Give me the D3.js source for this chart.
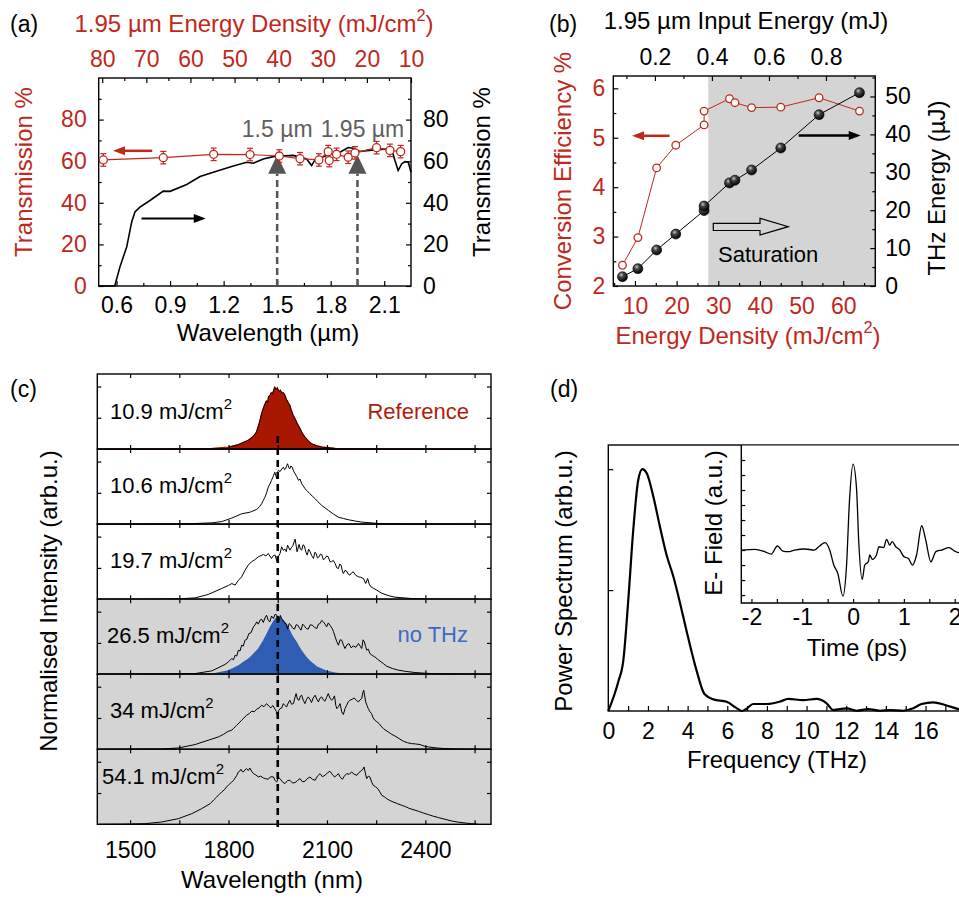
<!DOCTYPE html>
<html>
<head>
<meta charset="utf-8">
<script src="https://cdn.jsdelivr.net/npm/d3@7"></script>
<style>
  body { margin: 0; background: #fff; }
</style>
</head>
<body>
<svg id="fig" width="959" height="898"></svg>
<script>
// ---------- data ----------
// (a) measured transmission (red, left axis) and crystal transmission spectrum (black, right axis)
const transLambda = [0.526, 0.862, 1.144, 1.348, 1.512, 1.628, 1.734, 1.786, 1.792, 1.833, 1.898, 1.936, 2.057, 2.132, 2.192];
const transValue  = [60.6, 61.7, 63.3, 63.2, 62.5, 61.2, 60.6, 64.6, 60.3, 63.3, 61.9, 64.0, 66.5, 65.2, 64.6];
const transErr    = [3, 3, 3, 3, 3, 3, 3, 3, 3, 3, 3, 3, 3, 3, 3];
const specLambda = [0.5, 0.59, 0.619, 0.657, 0.685, 0.703, 0.731, 0.787, 0.862, 0.9, 0.993, 1.068, 1.142, 1.254, 1.329, 1.366, 1.422, 1.478, 1.59, 1.665,
                    1.693, 1.712, 1.777, 1.852, 1.898, 1.926, 1.964, 2.001, 2.076, 2.141, 2.16, 2.178, 2.198, 2.216, 2.235, 2.25];
const specTrans  = [0, 0, 9.2, 18.8, 30.8, 35.6, 37.9, 41.1, 45.6, 45.5, 48.8, 52.6, 54.7, 57.7, 59.5, 59, 61.1, 62.2, 62.8, 61.1,
                    57.9, 60.6, 62.7, 64.3, 66.6, 66.2, 64.7, 65.1, 65.7, 65.9, 60.3, 55.5, 58.7, 59.8, 59.5, 54.7];
const aTicksLeft = [0, 20, 40, 60, 80];
const aTicksBottom = [0.6, 0.9, 1.2, 1.5, 1.8, 2.1];
const aTicksTop = [80, 70, 60, 50, 40, 30, 20, 10];
const pumpLines = [1.5, 1.95];
const pumpLabels = ["1.5 µm", "1.95 µm"];

// (b) conversion efficiency (red) and THz energy (black) vs energy density
const fluence   = [7.0, 10.7, 15.2, 19.8, 26.6, 26.6, 32.7, 34.0, 38.0, 45.0, 54.2, 63.9];
const convEff   = [2.42, 2.98, 4.39, 4.85, 5.26, 5.54, 5.79, 5.71, 5.61, 5.62, 5.81, 5.54];
const thzEnergy = [2.46, 4.58, 9.5, 13.7, 19.9, 21.1, 27.2, 27.9, 30.6, 36.4, 45.2, 51.0];
const bTicksLeft = [2, 3, 4, 5, 6];
const bTicksRight = [0, 10, 20, 30, 40, 50];
const bTicksBottom = [10, 20, 30, 40, 50, 60];
const bTicksTop = [0.2, 0.4, 0.6, 0.8];
const saturationStart = 27.6;

// (c) spectra, [wavelength nm, normalised intensity]
const spec109 = [[1400,0],[1650,0.003],[1750,0.012],[1800,0.03],[1830,0.07],[1860,0.14],[1875,0.2],[1885,0.27],[1893,0.4],[1901,0.57],[1908,0.68],[1915,0.77],[1919,0.74],[1922,0.84],[1927,0.86],[1930,0.9],[1934,0.88],[1938,0.95],[1941,0.99],[1945,0.95],[1949,0.98],[1953,0.92],[1958,0.94],[1963,0.89],[1967,0.9],[1972,0.86],[1976,0.8],[1983,0.73],[1987,0.7],[1990,0.64],[1997,0.54],[2005,0.46],[2010,0.4],[2018,0.33],[2025,0.25],[2033,0.19],[2043,0.13],[2053,0.085],[2070,0.05],[2085,0.032],[2125,0.01],[2200,0.003],[2560,0]];
const spec106 = [[1400,0],[1650,0.003],[1700,0.01],[1749,0.02],[1779,0.04],[1810,0.096],[1840,0.165],[1865,0.19],[1870,0.2],[1886,0.235],[1895,0.28],[1901,0.325],[1906,0.38],[1911,0.43],[1916,0.5],[1921,0.59],[1926,0.64],[1931,0.7],[1936,0.76],[1941,0.83],[1944,0.78],[1947,0.725],[1950,0.84],[1952,0.86],[1957,0.84],[1962,0.88],[1967,0.91],[1971,0.87],[1974,0.885],[1977,0.93],[1980,0.965],[1984,0.9],[1987,0.885],[1990,0.93],[1994,0.91],[1998,0.85],[2003,0.805],[2008,0.76],[2013,0.7],[2018,0.72],[2023,0.645],[2028,0.61],[2033,0.565],[2040,0.53],[2048,0.485],[2055,0.45],[2064,0.405],[2072,0.36],[2084,0.3],[2094,0.26],[2104,0.22],[2120,0.16],[2135,0.11],[2150,0.09],[2165,0.07],[2185,0.05],[2206,0.032],[2257,0.01],[2358,0.002],[2560,0]];
const spec197 = [[1400,0],[1550,0.002],[1647,0.005],[1698,0.02],[1738,0.075],[1779,0.17],[1800,0.22],[1810,0.25],[1820,0.224],[1830,0.3],[1840,0.357],[1850,0.46],[1860,0.544],[1870,0.597],[1880,0.63],[1891,0.677],[1906,0.715],[1914,0.69],[1921,0.73],[1931,0.65],[1937,0.7],[1942,0.704],[1947,0.608],[1952,0.68],[1957,0.73],[1962,0.837],[1967,0.78],[1972,0.8],[1976,0.76],[1980,0.864],[1987,0.784],[1991,0.82],[1996,0.853],[2003,0.96],[2009,0.757],[2015,0.875],[2019,0.8],[2023,0.784],[2027,0.87],[2031,0.853],[2036,0.75],[2040,0.704],[2044,0.8],[2048,0.768],[2053,0.7],[2059,0.65],[2063,0.75],[2067,0.73],[2071,0.66],[2076,0.677],[2080,0.72],[2084,0.715],[2089,0.63],[2094,0.65],[2099,0.69],[2104,0.677],[2109,0.6],[2114,0.597],[2119,0.62],[2125,0.57],[2130,0.5],[2135,0.49],[2139,0.56],[2143,0.544],[2147,0.45],[2150,0.41],[2155,0.46],[2160,0.448],[2165,0.4],[2170,0.384],[2175,0.42],[2180,0.437],[2188,0.38],[2196,0.357],[2203,0.35],[2211,0.33],[2218,0.25],[2224,0.33],[2229,0.24],[2234,0.197],[2243,0.17],[2252,0.144],[2265,0.1],[2277,0.075],[2292,0.05],[2307,0.032],[2358,0.01],[2409,0.003],[2560,0]];
const spec265 = [[1400,0],[1600,0.004],[1698,0.01],[1749,0.053],[1789,0.155],[1800,0.2],[1810,0.25],[1815,0.23],[1820,0.304],[1825,0.29],[1830,0.384],[1835,0.37],[1840,0.464],[1845,0.45],[1850,0.544],[1856,0.56],[1862,0.65],[1868,0.66],[1876,0.757],[1881,0.79],[1886,0.837],[1891,0.8],[1896,0.864],[1901,0.88],[1906,0.827],[1911,0.9],[1916,0.944],[1921,0.86],[1926,0.837],[1931,0.93],[1937,0.89],[1942,0.96],[1947,0.944],[1950,0.85],[1954,0.837],[1958,0.94],[1962,0.89],[1967,0.85],[1972,0.81],[1976,0.8],[1980,0.72],[1985,0.81],[1990,0.784],[1995,0.74],[2001,0.72],[2006,0.79],[2011,0.784],[2016,0.74],[2021,0.704],[2026,0.8],[2031,0.773],[2037,0.73],[2043,0.72],[2049,0.79],[2055,0.784],[2062,0.75],[2069,0.73],[2074,0.8],[2079,0.81],[2084,0.86],[2089,0.837],[2094,0.8],[2099,0.757],[2104,0.82],[2109,0.784],[2116,0.73],[2120,0.68],[2125,0.597],[2130,0.52],[2135,0.464],[2140,0.55],[2145,0.544],[2150,0.47],[2155,0.41],[2161,0.47],[2167,0.49],[2174,0.42],[2180,0.453],[2188,0.43],[2196,0.49],[2201,0.45],[2206,0.41],[2210,0.55],[2214,0.517],[2218,0.44],[2221,0.384],[2226,0.4],[2231,0.33],[2238,0.3],[2246,0.277],[2254,0.24],[2262,0.208],[2272,0.17],[2282,0.128],[2300,0.09],[2318,0.064],[2340,0.045],[2368,0.027],[2400,0.015],[2440,0.005],[2560,0]];
const spec265noTHz = [[1400,0],[1650,0.002],[1700,0.005],[1749,0.01],[1799,0.064],[1830,0.144],[1845,0.2],[1860,0.25],[1870,0.3],[1881,0.357],[1890,0.41],[1896,0.464],[1904,0.53],[1911,0.597],[1916,0.65],[1921,0.704],[1926,0.76],[1932,0.81],[1937,0.86],[1942,0.89],[1947,0.91],[1952,0.933],[1957,0.92],[1962,0.89],[1970,0.85],[1977,0.81],[1985,0.73],[1992,0.65],[2000,0.58],[2008,0.517],[2015,0.45],[2023,0.384],[2030,0.33],[2038,0.277],[2048,0.22],[2059,0.17],[2070,0.125],[2084,0.09],[2100,0.055],[2125,0.027],[2165,0.005],[2250,0],[2560,0]];
const spec34 = [[1400,0],[1500,0.002],[1596,0.005],[1647,0.02],[1698,0.075],[1738,0.144],[1769,0.197],[1785,0.24],[1799,0.288],[1808,0.3],[1815,0.33],[1820,0.36],[1825,0.384],[1832,0.42],[1840,0.464],[1847,0.5],[1855,0.544],[1863,0.57],[1871,0.608],[1878,0.6],[1886,0.64],[1893,0.66],[1901,0.704],[1908,0.68],[1916,0.73],[1923,0.69],[1929,0.661],[1935,0.7],[1942,0.64],[1946,0.6],[1949,0.544],[1953,0.62],[1957,0.65],[1962,0.66],[1967,0.73],[1972,0.7],[1977,0.677],[1982,0.74],[1987,0.784],[1992,0.72],[1998,0.73],[2002,0.82],[2006,0.89],[2010,0.8],[2015,0.784],[2019,0.85],[2023,0.864],[2028,0.78],[2033,0.73],[2038,0.8],[2043,0.837],[2048,0.8],[2053,0.747],[2058,0.82],[2064,0.864],[2069,0.8],[2074,0.757],[2079,0.82],[2084,0.837],[2089,0.79],[2094,0.768],[2099,0.83],[2104,0.89],[2109,0.82],[2114,0.784],[2118,0.8],[2123,0.853],[2127,0.7],[2130,0.65],[2135,0.68],[2140,0.73],[2145,0.6],[2150,0.555],[2155,0.65],[2160,0.704],[2165,0.76],[2170,0.784],[2177,0.8],[2183,0.821],[2190,0.78],[2196,0.757],[2201,0.79],[2206,0.81],[2209,0.9],[2212,0.944],[2215,0.85],[2218,0.757],[2222,0.7],[2226,0.65],[2231,0.6],[2236,0.57],[2241,0.5],[2246,0.464],[2252,0.44],[2259,0.41],[2265,0.37],[2272,0.33],[2280,0.3],[2287,0.277],[2297,0.24],[2307,0.213],[2320,0.17],[2333,0.128],[2345,0.105],[2358,0.09],[2370,0.085],[2384,0.075],[2396,0.05],[2409,0.037],[2435,0.02],[2460,0.011],[2500,0.004],[2541,0.001],[2560,0]];
const spec541 = [[1400,0],[1480,0.003],[1545,0.01],[1596,0.037],[1647,0.09],[1688,0.17],[1718,0.25],[1744,0.33],[1755,0.39],[1764,0.437],[1772,0.48],[1779,0.517],[1787,0.55],[1794,0.597],[1802,0.64],[1810,0.677],[1815,0.7],[1820,0.741],[1825,0.78],[1830,0.837],[1834,0.85],[1838,0.88],[1842,0.84],[1845,0.837],[1850,0.87],[1855,0.89],[1860,0.86],[1865,0.9],[1870,0.85],[1876,0.81],[1883,0.79],[1891,0.757],[1898,0.77],[1906,0.741],[1913,0.73],[1921,0.72],[1928,0.76],[1937,0.757],[1942,0.7],[1947,0.677],[1952,0.75],[1957,0.73],[1964,0.68],[1972,0.65],[1980,0.7],[1987,0.704],[1995,0.66],[2003,0.667],[2010,0.7],[2018,0.73],[2025,0.68],[2033,0.688],[2040,0.73],[2048,0.757],[2056,0.72],[2064,0.704],[2071,0.77],[2079,0.81],[2086,0.76],[2094,0.784],[2101,0.82],[2109,0.848],[2116,0.8],[2123,0.757],[2129,0.78],[2135,0.81],[2141,0.75],[2147,0.72],[2153,0.77],[2160,0.81],[2168,0.8],[2175,0.837],[2183,0.8],[2191,0.784],[2198,0.83],[2206,0.864],[2210,0.88],[2213,0.917],[2217,0.82],[2221,0.73],[2226,0.77],[2231,0.757],[2236,0.68],[2241,0.624],[2248,0.6],[2255,0.57],[2261,0.52],[2267,0.464],[2275,0.44],[2282,0.41],[2292,0.38],[2302,0.357],[2315,0.33],[2328,0.304],[2340,0.28],[2353,0.25],[2366,0.23],[2379,0.208],[2394,0.18],[2409,0.155],[2424,0.13],[2440,0.107],[2460,0.08],[2480,0.053],[2500,0.035],[2521,0.021],[2540,0.01],[2556,0.005],[2560,0]];
const spectra = [spec109, spec106, spec197, spec265, spec34, spec541];
const fluenceLabels = ["10.9", "10.6", "19.7", "26.5", "34", "54.1"];
const cTicksBottom = [1500, 1800, 2100, 2400];
const cTicksMinor = [1650, 1950, 2250, 2550];
const centreLambda = 1950;

// (d) THz power spectrum and inset field trace
const powerFreq = [0, 0.5, 0.76, 1.0, 1.26, 1.51, 1.72, 1.94, 2.27, 2.61, 2.94, 3.28, 3.62, 3.95, 4.46, 4.85, 5.3, 5.97, 6.47, 6.73,
                   6.95, 7.31, 7.99, 8.66, 9.08, 9.83, 10.51, 11.01, 11.35, 12.02, 12.53, 13.11, 13.7, 14.2, 14.88, 15.38, 15.8, 16.39, 16.98, 17.69, 18];
const powerVal  = [0, 0.12, 0.21, 0.45, 0.75, 0.955, 1.0, 0.983, 0.887, 0.76, 0.645, 0.556, 0.446, 0.33, 0.165, 0.07, 0.048, 0.038, 0.012, 0,
                   0.008, 0.029, 0.029, 0.039, 0.05, 0.045, 0.05, 0.032, 0.004, 0.011, 0.001, 0.008, 0.001, 0.004, 0.001, 0.011, 0.029, 0.036, 0.025, 0.007, 0];
const fieldTime = [-2.2, -1.93, -1.74, -1.61, -1.49, -1.38, -1.28, -1.15, -0.95, -0.76, -0.66, -0.55, -0.46, -0.38, -0.3, -0.2, -0.13, -0.07, 0, 0.07,
                   0.11, 0.18, 0.23, 0.3, 0.33, 0.38, 0.46, 0.51, 0.6, 0.66, 0.72, 0.77, 0.84, 0.92, 1.0, 1.09, 1.17, 1.25, 1.35, 1.43,
                   1.53, 1.63, 1.74, 1.89, 2.0, 2.09, 2.4];
const fieldVal  = [0, 0.04, -0.11, -0.27, 0.27, -0.07, -0.11, 0, 0.07, 0, 0.27, 0.49, 0, -1.0, -1.56, -3.07, -1.11, 3.33, 5.73, 4.0,
                   0.67, -1.96, -1.0, -0.78, -0.33, -0.62, -0.33, 0.22, 0.16, 0.71, 0.33, 0.56, 0.22, 0, -0.44, -0.56, -1.0, -0.33, 1.62, 0.67,
                   -0.78, -0.11, 0, 0.16, -0.07, -0.18, 0];
const dTicksBottom = [0, 2, 4, 6, 8, 10, 12, 14, 16];
const dTicksMinor = [1, 3, 5, 7, 9, 11, 13, 15, 17];
const insetTicks = [-2, -1, 0, 1, 2];

// ---------- helpers ----------
const FONT = '"Liberation Sans", Arial, sans-serif';
const RED = "#c0281c";
const GREY = "#d4d4d4";
const svg = d3.select("#fig").attr("font-family", FONT).attr("font-size", 22);

function axis(orient, scale, at, major, minor, o = {}) {
  const gen = { bottom: d3.axisBottom, top: d3.axisTop, left: d3.axisLeft, right: d3.axisRight }[orient];
  const tr = (orient === "bottom" || orient === "top") ? `translate(0,${at})` : `translate(${at},0)`;
  if (minor && minor.length) {
    svg.append("g").attr("transform", tr)
      .call(gen(scale).tickValues(minor).tickSize(-(o.minorSize || 3)).tickFormat(""))
      .call(g => { g.select(".domain").remove(); g.selectAll("line").attr("stroke-width", 1.2); });
  }
  const g = svg.append("g").attr("transform", tr)
    .call(gen(scale).tickValues(major).tickSize(-(o.size || 5)).tickPadding(o.pad || 10)
      .tickFormat(o.noLabels ? "" : (o.fmt || (d => d))));
  g.attr("font-size", 23).attr("font-family", FONT);
  g.select(".domain").remove();
  g.selectAll("line").attr("stroke-width", 1.2);
  g.selectAll("text").attr("fill", o.color || "#000");
  return g;
}

function frame(x0, y0, x1, y1) {
  svg.append("rect").attr("x", x0).attr("y", y0).attr("width", x1 - x0).attr("height", y1 - y0)
    .attr("fill", "none").attr("stroke", "#000").attr("stroke-width", 1.4);
}

// text with an optional superscript part
function label(x, y, pre, sup, post, color = "#000", anchor = "start", rot = 0, size = 24) {
  const t = svg.append("text")
    .attr("transform", `translate(${x},${y})` + (rot ? ` rotate(${rot})` : ""))
    .attr("text-anchor", anchor).attr("fill", color).attr("font-size", size);
  t.append("tspan").text(pre);
  if (sup) {
    t.append("tspan").text(sup).attr("font-size", size * 0.68).attr("dy", -size * 0.45);
    if (post) t.append("tspan").text(post).attr("dy", size * 0.45);
  }
  return t;
}

function arrow(x1, y1, x2, y2, color, w = 2.5) {
  const dir = Math.sign(x2 - x1);
  svg.append("line").attr("x1", x1).attr("y1", y1).attr("x2", x2 - dir * 9).attr("y2", y2)
    .attr("stroke", color).attr("stroke-width", w);
  svg.append("path").attr("d", `M${x2},${y2} L${x2 - dir * 12},${y2 - 4.5} L${x2 - dir * 12},${y2 + 4.5} Z`).attr("fill", color);
}

// ---------- panel (a) ----------
const xA = d3.scaleLinear().domain([0.5, 2.25]).range([98.7, 411]);
const yA = d3.scaleLinear().domain([0, 100]).range([286, 78]);
const xAtop = d3.scaleLinear().domain([80.8, 10]).range([98.7, 411]);

frame(98.7, 78, 411, 286);
axis("left", yA, 98.7, aTicksLeft, [10, 30, 50, 70, 90], { color: RED, pad: 12 });
axis("right", yA, 411, aTicksLeft, [10, 30, 50, 70, 90], { pad: 12 });
axis("bottom", xA, 286, aTicksBottom, [0.75, 1.05, 1.35, 1.65, 1.95], { fmt: d3.format(".1f"), pad: 11 });
axis("top", xAtop, 78, aTicksTop, [75, 65, 55, 45, 35, 25, 15], { color: RED, pad: 11 });

svg.append("path")
  .attr("d", d3.line().x(d => xA(d[0])).y(d => yA(d[1]))(specLambda.map((l, i) => [l, specTrans[i]])))
  .attr("fill", "none").attr("stroke", "#000").attr("stroke-width", 1.6);

// pump wavelength markers
pumpLines.forEach((l, i) => {
  const x = xA(l);
  svg.append("line").attr("x1", x).attr("x2", x).attr("y1", yA(0)).attr("y2", yA(54))
    .attr("stroke", "#555").attr("stroke-width", 2.5).attr("stroke-dasharray", "7,4");
  svg.append("path").attr("d", `M${x - 9},${yA(54)} L${x + 9},${yA(54)} L${x},${yA(63)} Z`).attr("fill", "#555");
  label(x + (i ? 5 : 0), 137, pumpLabels[i], null, null, "#606060", "middle", 0, 23);
});

const aPts = transLambda.map((l, i) => [l, transValue[i], transErr[i]]);
svg.append("path").attr("d", d3.line().x(d => xA(d[0])).y(d => yA(d[1]))(aPts))
  .attr("fill", "none").attr("stroke", RED).attr("stroke-width", 1.2);
const eb = svg.append("g").attr("stroke", RED).attr("stroke-width", 1.2);
aPts.forEach(d => {
  const x = xA(d[0]);
  eb.append("line").attr("x1", x).attr("x2", x).attr("y1", yA(d[1] - d[2])).attr("y2", yA(d[1] + d[2]));
  eb.append("line").attr("x1", x - 3).attr("x2", x + 3).attr("y1", yA(d[1] - d[2])).attr("y2", yA(d[1] - d[2]));
  eb.append("line").attr("x1", x - 3).attr("x2", x + 3).attr("y1", yA(d[1] + d[2])).attr("y2", yA(d[1] + d[2]));
});
svg.append("g").selectAll("circle").data(aPts).join("circle")
  .attr("cx", d => xA(d[0])).attr("cy", d => yA(d[1])).attr("r", 4)
  .attr("fill", "#fff").attr("stroke", RED).attr("stroke-width", 1.3);

arrow(xA(0.8), yA(65), xA(0.58), yA(65), RED);
arrow(xA(0.74), yA(32.4), xA(1.1), yA(32.4), "#000", 2);

label(10, 32, "(a)", null, null, "#000", "start", 0, 23);
label(254, 32, "1.95 µm Energy Density (mJ/cm", "2", ")", RED, "middle");
label(32, 172, "Transmission %", null, null, RED, "middle", -90);
label(490, 172, "Transmission %", null, null, "#000", "middle", -90);
label(268, 341, "Wavelength (µm)", null, null, "#000", "middle");

// ---------- panel (b) ----------
const xB = d3.scaleLinear().domain([4.8, 67.7]).range([613.3, 875.3]);
const yBL = d3.scaleLinear().domain([2, 6.25]).range([286, 76]);
const yBR = d3.scaleLinear().domain([0, 55.4]).range([286, 76]);
const xBtop = d3.scaleLinear().domain([0.054, 0.973]).range([613.3, 875.3]);

svg.append("rect").attr("x", xB(saturationStart)).attr("y", 76)
  .attr("width", 875.3 - xB(saturationStart)).attr("height", 210).attr("fill", GREY);
frame(613.3, 76, 875.3, 286);
axis("left", yBL, 613.3, bTicksLeft, [2.5, 3.5, 4.5, 5.5], { color: RED, pad: 8 });
axis("right", yBR, 875.3, bTicksRight, [5, 15, 25, 35, 45, 55], { pad: 10 });
axis("bottom", xB, 286, bTicksBottom, [5, 15, 25, 35, 45, 55, 65], { color: RED, pad: 12 });
axis("top", xBtop, 76, bTicksTop, [0.1, 0.3, 0.5, 0.7, 0.9], { pad: 11 });

const defs = svg.append("defs");
const grad = defs.append("radialGradient").attr("id", "ball").attr("cx", "38%").attr("cy", "32%").attr("r", "70%");
grad.append("stop").attr("offset", "0%").attr("stop-color", "#c8c8c8");
grad.append("stop").attr("offset", "35%").attr("stop-color", "#444");
grad.append("stop").attr("offset", "100%").attr("stop-color", "#000");

const cePts = fluence.map((f, i) => [f, convEff[i]]);
const thzPts = fluence.map((f, i) => [f, thzEnergy[i]]);
svg.append("path").attr("d", d3.line().x(d => xB(d[0])).y(d => yBL(d[1]))(cePts))
  .attr("fill", "none").attr("stroke", RED).attr("stroke-width", 1);
svg.append("path").attr("d", d3.line().x(d => xB(d[0])).y(d => yBR(d[1]))(thzPts))
  .attr("fill", "none").attr("stroke", "#000").attr("stroke-width", 1);
svg.append("g").selectAll("circle").data(cePts).join("circle")
  .attr("cx", d => xB(d[0])).attr("cy", d => yBL(d[1])).attr("r", 3.8)
  .attr("fill", "#fff").attr("stroke", RED).attr("stroke-width", 1.3);
svg.append("g").selectAll("circle").data(thzPts).join("circle")
  .attr("cx", d => xB(d[0])).attr("cy", d => yBR(d[1])).attr("r", 5)
  .attr("fill", "url(#ball)").attr("stroke", "#000").attr("stroke-width", 0.6);

arrow(xB(18.3), yBL(5.04), xB(9.3), yBL(5.04), RED);
arrow(xB(49.3), yBR(39.7), xB(64.2), yBR(39.7), "#000");
// open "saturation" arrow
svg.append("path")
  .attr("d", "M713.3,223.3 L760,223.3 L760,218.3 L788.3,226.7 L760,235 L760,230.5 L713.3,230.5 Z")
  .attr("fill", "none").attr("stroke", "#000").attr("stroke-width", 1.2);
label(718, 262, "Saturation", null, null, "#000", "start", 0, 22);

label(549, 32, "(b)", null, null, "#000", "start", 0, 23);
label(746, 29, "1.95 µm Input Energy (mJ)", null, null, "#000", "middle");
label(571, 181, "Conversion Efficiency %", null, null, RED, "middle", -90);
label(945, 188, "THz Energy (µJ)", null, null, "#000", "middle", -90);
label(748, 344, "Energy Density (mJ/cm", "2", ")", RED, "middle");

// ---------- panel (c) ----------
const xC = d3.scaleLinear().domain([1400, 2600]).range([97.3, 491]);
const cTop = 374, subH = 75.05;
const labelX = [110, 110, 110, 107, 110, 102];
const labelDy = [44.7, 43.7, 43.7, 43.4, 43.4, 35];

spectra.forEach((s, i) => {
  const top = cTop + i * subH, bot = top + subH;
  const y = d3.scaleLinear().domain([0, 1.2]).range([bot, top]);
  if (i >= 3) svg.append("rect").attr("x", 97.3).attr("y", top).attr("width", 491 - 97.3).attr("height", subH).attr("fill", GREY);
  const area = d3.area().x(d => xC(d[0])).y0(bot).y1(d => y(d[1]));
  const line = d3.line().x(d => xC(d[0])).y(d => y(d[1]));
  if (i === 0) {
    svg.append("path").attr("d", area(s)).attr("fill", "#a81800").attr("stroke", "#a81800").attr("stroke-width", 1.2);
    svg.append("path").attr("d", line(s.filter(d => d[0] > 1780 && d[0] < 2140)))
      .attr("fill", "none").attr("stroke", "#000").attr("stroke-width", 0.9);
  } else {
    if (i === 3) {
      svg.append("path").attr("d", area(spec265noTHz)).attr("fill", "#2e5db3");
      svg.append("line").attr("x1", 97.3).attr("x2", 491).attr("y1", bot - 0.5).attr("y2", bot - 0.5)
        .attr("stroke", "#3f7a4a").attr("stroke-width", 1);
    }
    svg.append("path").attr("d", line(s)).attr("fill", "none").attr("stroke", "#000").attr("stroke-width", 1);
  }
  frame(97.3, top, 491, bot);
  axis("left", y, 97.3, [0.5, 1], null, { size: 4, noLabels: true });
  axis("right", y, 491, [0.5, 1], null, { size: 4, noLabels: true });
  axis("top", xC, top, cTicksBottom.concat(cTicksMinor), null, { size: 4, noLabels: true });
  if (i < 5) axis("bottom", xC, bot, cTicksBottom.concat(cTicksMinor), null, { size: 4, noLabels: true });
  else axis("bottom", xC, bot, cTicksBottom, cTicksMinor, { size: 4, minorSize: 4, pad: 17 });
});

svg.append("line").attr("x1", xC(centreLambda)).attr("x2", xC(centreLambda)).attr("y1", 436).attr("y2", 832)
  .attr("stroke", "#000").attr("stroke-width", 2.6).attr("stroke-dasharray", "7,5");

fluenceLabels.forEach((f, i) => {
  label(labelX[i], cTop + i * subH + labelDy[i], f + " mJ/cm", "2", null, "#000", "start", 0, 22);
});
label(469, 418.5, "Reference", null, null, "#b01d0a", "end", 0, 22);
label(468, 641.5, "no THz", null, null, "#3a6cc4", "end", 0, 22);

label(10, 397, "(c)", null, null, "#000", "start", 0, 23);
label(57, 601, "Normalised Intensity (arb.u.)", null, null, "#000", "middle", -90);
label(272, 888, "Wavelength (nm)", null, null, "#000", "middle");

// ---------- panel (d) ----------
const xD = d3.scaleLinear().domain([0, 18]).range([608.3, 965.2]);
const yD = d3.scaleLinear().domain([0, 1.1]).range([711, 445]);
frame(608.3, 445, 965.2, 711);
axis("bottom", xD, 711, dTicksBottom, dTicksMinor, { size: 5, minorSize: 5, pad: 12 });
axis("left", yD, 608.3, [0.5, 1], null, { size: 5, noLabels: true });
svg.append("path")
  .attr("d", d3.line().curve(d3.curveMonotoneX).x(d => xD(d[0])).y(d => yD(d[1]))(powerFreq.map((f, i) => [f, powerVal[i]])))
  .attr("fill", "none").attr("stroke", "#000").attr("stroke-width", 2.2);

// inset
const xI = d3.scaleLinear().domain([-2.2, 2.4]).range([741.3, 975]);
const yI = d3.scaleLinear().domain([-3.53, 7]).range([603, 445]);
svg.append("rect").attr("x", 741.3).attr("y", 445.7).attr("width", 230).attr("height", 603 - 445.7).attr("fill", "#fff");
svg.append("path").attr("d", "M741.3,445 L741.3,603 L975,603").attr("fill", "none").attr("stroke", "#000").attr("stroke-width", 1.4);
axis("left", yI, 741.3, [-3, -2, -1, 0, 1, 2, 3, 4, 5, 6], null, { size: 4, noLabels: true });
axis("bottom", xI, 603, insetTicks, [-1.5, -0.5, 0.5, 1.5], { size: 4, minorSize: 4, pad: 6 });
svg.append("path")
  .attr("d", d3.line().curve(d3.curveMonotoneX).x(d => xI(d[0])).y(d => yI(d[1]))(fieldTime.map((t, i) => [t, fieldVal[i]])))
  .attr("fill", "none").attr("stroke", "#000").attr("stroke-width", 1.3);

label(550, 397, "(d)", null, null, "#000", "start", 0, 23);
label(572, 581, "Power Spectrum (arb.u.)", null, null, "#000", "middle", -90);
label(777, 768, "Frequency (THz)", null, null, "#000", "middle");
label(722, 523, "E- Field (a.u.)", null, null, "#000", "middle", -90);
label(857, 656, "Time (ps)", null, null, "#000", "middle");
</script>
</body>
</html>
